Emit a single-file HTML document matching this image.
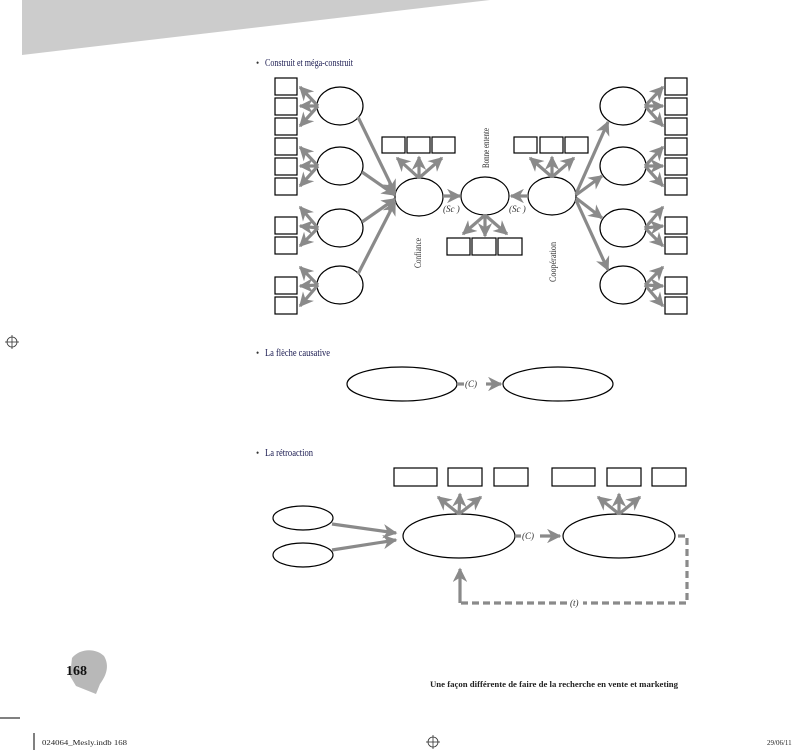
<!DOCTYPE html>
<html><head><meta charset="utf-8"><style>
html,body{margin:0;padding:0;background:#fff;}
svg{display:block;}
text{font-family:"Liberation Serif",serif;}
</style></head><body>
<svg width="800" height="755" viewBox="0 0 800 755" xmlns="http://www.w3.org/2000/svg">
<defs>
<marker id="a" viewBox="0 0 10 10" refX="9" refY="5" markerWidth="4.5" markerHeight="4.5" orient="auto" markerUnits="strokeWidth">
<path d="M0,0 L10,5 L0,10 L3,5 z" fill="#8a8a8a"/></marker>
</defs>
<polygon points="22,0 490,0 22,55" fill="#cccccc"/>

<text x="256" y="66" font-size="9" fill="#333">•</text>
<text x="265" y="66" font-size="10" fill="#1a1a50" textLength="88" lengthAdjust="spacingAndGlyphs">Construit et méga-construit</text>
<text x="256" y="356" font-size="9" fill="#333">•</text>
<text x="265" y="356" font-size="10" fill="#1a1a50" textLength="65" lengthAdjust="spacingAndGlyphs">La flèche causative</text>
<text x="256" y="456" font-size="9" fill="#333">•</text>
<text x="265" y="456" font-size="10" fill="#1a1a50" textLength="48" lengthAdjust="spacingAndGlyphs">La rétroaction</text>

<g fill="#fff" stroke="#000" stroke-width="1.2">
<rect x="275" y="78" width="22" height="17"/><rect x="275" y="98" width="22" height="17"/><rect x="275" y="118" width="22" height="17"/>
<rect x="275" y="138" width="22" height="17"/><rect x="275" y="158" width="22" height="17"/><rect x="275" y="178" width="22" height="17"/>
<rect x="275" y="217" width="22" height="17"/><rect x="275" y="237" width="22" height="17"/>
<rect x="275" y="277" width="22" height="17"/><rect x="275" y="297" width="22" height="17"/>
<rect x="665" y="78" width="22" height="17"/><rect x="665" y="98" width="22" height="17"/><rect x="665" y="118" width="22" height="17"/>
<rect x="665" y="138" width="22" height="17"/><rect x="665" y="158" width="22" height="17"/><rect x="665" y="178" width="22" height="17"/>
<rect x="665" y="217" width="22" height="17"/><rect x="665" y="237" width="22" height="17"/>
<rect x="665" y="277" width="22" height="17"/><rect x="665" y="297" width="22" height="17"/>
<rect x="382" y="137" width="23" height="16"/><rect x="407" y="137" width="23" height="16"/><rect x="432" y="137" width="23" height="16"/>
<rect x="514" y="137" width="23" height="16"/><rect x="540" y="137" width="23" height="16"/><rect x="565" y="137" width="23" height="16"/>
<rect x="447" y="238" width="23" height="17"/><rect x="472" y="238" width="24" height="17"/><rect x="498" y="238" width="24" height="17"/>
<ellipse cx="340" cy="106" rx="23" ry="19"/><ellipse cx="340" cy="166" rx="23" ry="19"/>
<ellipse cx="340" cy="228" rx="23" ry="19"/><ellipse cx="340" cy="285" rx="23" ry="19"/>
<ellipse cx="623" cy="106" rx="23" ry="19"/><ellipse cx="623" cy="166" rx="23" ry="19"/>
<ellipse cx="623" cy="228" rx="23" ry="19"/><ellipse cx="623" cy="285" rx="23" ry="19"/>
<ellipse cx="419" cy="197" rx="24" ry="19"/><ellipse cx="485" cy="196" rx="24" ry="19"/><ellipse cx="552" cy="196" rx="24" ry="19"/>
<ellipse cx="402" cy="384" rx="55" ry="17"/><ellipse cx="558" cy="384" rx="55" ry="17"/>
<rect x="394" y="468" width="43" height="18"/><rect x="448" y="468" width="34" height="18"/><rect x="494" y="468" width="34" height="18"/>
<rect x="552" y="468" width="43" height="18"/><rect x="607" y="468" width="34" height="18"/><rect x="652" y="468" width="34" height="18"/>
<ellipse cx="303" cy="518" rx="30" ry="12"/><ellipse cx="303" cy="555" rx="30" ry="12"/>
<ellipse cx="459" cy="536" rx="56" ry="22"/><ellipse cx="619" cy="536" rx="56" ry="22"/>
</g>

<g stroke="#8a8a8a" stroke-width="3.2" fill="none" marker-end="url(#a)">
<line x1="318" y1="106" x2="300" y2="87"/><line x1="318" y1="106" x2="300" y2="106"/><line x1="318" y1="106" x2="300" y2="126"/>
<line x1="318" y1="166" x2="300" y2="147"/><line x1="318" y1="166" x2="300" y2="166"/><line x1="318" y1="166" x2="300" y2="186"/>
<line x1="318" y1="228" x2="300" y2="207"/><line x1="318" y1="228" x2="300" y2="226"/><line x1="318" y1="228" x2="300" y2="246"/>
<line x1="318" y1="285" x2="300" y2="267"/><line x1="318" y1="285" x2="300" y2="286"/><line x1="318" y1="285" x2="300" y2="306"/>
<line x1="645" y1="106" x2="663" y2="87"/><line x1="645" y1="106" x2="663" y2="106"/><line x1="645" y1="106" x2="663" y2="126"/>
<line x1="645" y1="166" x2="663" y2="147"/><line x1="645" y1="166" x2="663" y2="166"/><line x1="645" y1="166" x2="663" y2="186"/>
<line x1="645" y1="228" x2="663" y2="207"/><line x1="645" y1="228" x2="663" y2="226"/><line x1="645" y1="228" x2="663" y2="246"/>
<line x1="645" y1="285" x2="663" y2="267"/><line x1="645" y1="285" x2="663" y2="286"/><line x1="645" y1="285" x2="663" y2="306"/>
<line x1="358" y1="117" x2="395" y2="193"/><line x1="362" y1="172" x2="395" y2="195"/>
<line x1="362" y1="222" x2="395" y2="199"/><line x1="358" y1="274" x2="395" y2="202"/>
<line x1="576" y1="194" x2="608" y2="122"/><line x1="576" y1="195" x2="602" y2="176"/>
<line x1="576" y1="198" x2="602" y2="218"/><line x1="576" y1="200" x2="608" y2="270"/>
<line x1="419" y1="178" x2="397" y2="158"/><line x1="419" y1="178" x2="419" y2="157"/><line x1="419" y1="178" x2="442" y2="158"/>
<line x1="552" y1="177" x2="530" y2="158"/><line x1="552" y1="177" x2="552" y2="157"/><line x1="552" y1="177" x2="574" y2="158"/>
<line x1="485" y1="215" x2="463" y2="234"/><line x1="485" y1="215" x2="485" y2="236"/><line x1="485" y1="215" x2="507" y2="234"/>
<line x1="443" y1="196" x2="460" y2="196"/><line x1="528" y1="196" x2="511" y2="196"/>
<line x1="486" y1="384" x2="501" y2="384"/>
<line x1="459" y1="514" x2="438" y2="497"/><line x1="459" y1="514" x2="460" y2="494"/><line x1="459" y1="514" x2="481" y2="497"/>
<line x1="619" y1="514" x2="598" y2="497"/><line x1="619" y1="514" x2="619" y2="494"/><line x1="619" y1="514" x2="640" y2="497"/>
<line x1="332" y1="524" x2="396" y2="533"/><line x1="332" y1="550" x2="396" y2="540"/>
<line x1="540" y1="536" x2="560" y2="536"/>
<path d="M460,603 L460,569" />
</g>
<g stroke="#8a8a8a" stroke-width="3.2" fill="none">
<line x1="457" y1="384" x2="464" y2="384"/>
<line x1="515" y1="536" x2="521" y2="536"/>
<path d="M678,536 L687,536 L687,603 L583,603 M567,603 L460,603" stroke-dasharray="7,4"/>
</g>

<g font-size="9" fill="#333">
<text x="443" y="212" font-style="italic">(Sc  )</text>
<text x="509" y="212" font-style="italic">(Sc  )</text>
<text x="465" y="387" font-style="italic">(C)</text>
<text x="522" y="539" font-style="italic">(C)</text>
<text x="570" y="606" font-style="italic">(t)</text>
<text transform="translate(489,168) rotate(-90)" textLength="40" lengthAdjust="spacingAndGlyphs">Bonne entente</text>
<text transform="translate(421,268) rotate(-90)" textLength="30" lengthAdjust="spacingAndGlyphs">Confiance</text>
<text transform="translate(556,282) rotate(-90)" textLength="40" lengthAdjust="spacingAndGlyphs">Coopération</text>
</g>

<path d="M72,658 C80,648 96,648 104,656 C110,666 106,676 100,684 L96,694 L86,690 L76,686 L70,676 Z" fill="#b8b8b8"/>
<text x="66" y="675" font-size="14" font-weight="bold" fill="#111">168</text>
<text x="430" y="687" font-size="8" font-weight="bold" fill="#222" textLength="248" lengthAdjust="spacingAndGlyphs">Une façon différente de faire de la recherche en vente et marketing</text>
<line x1="0" y1="718" x2="20" y2="718" stroke="#000" stroke-width="1"/>
<line x1="34" y1="733" x2="34" y2="750" stroke="#000" stroke-width="1"/>
<text x="42" y="745" font-size="7" fill="#222" font-family="Liberation Sans" textLength="85" lengthAdjust="spacingAndGlyphs">024064_Mesly.indb   168</text>
<text x="767" y="745" font-size="7" fill="#222" font-family="Liberation Sans">29/06/11</text>
<g stroke="#333" fill="none" stroke-width="0.8">
<circle cx="433" cy="742" r="5"/><line x1="426" y1="742" x2="440" y2="742"/><line x1="433" y1="735" x2="433" y2="749"/>
<circle cx="12" cy="342" r="5"/><line x1="5" y1="342" x2="19" y2="342"/><line x1="12" y1="335" x2="12" y2="349"/>
</g>
</svg>
</body></html>
